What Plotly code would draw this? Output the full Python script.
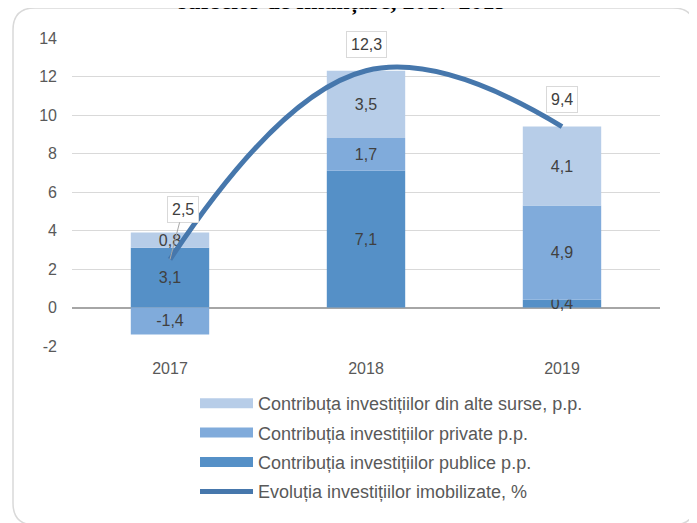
import plotly.graph_objects as go

years = ["2017", "2018", "2019"]
publice = [3.1, 7.1, 0.4]
private = [-1.4, 1.7, 4.9]
alte = [0.8, 3.5, 4.1]
evolutia = [2.5, 12.3, 9.4]
tick_vals = [-2, 0, 2, 4, 6, 8, 10, 12, 14]
tick_text = ["-2", "0", "2", "4", "6", "8", "10", "12", "14"]

names = ["Contribuța investițiilor din alte surse, p.p.",
         "Contribuția investițiilor private p.p.",
         "Contribuția investițiilor publice p.p.",
         "Evoluția investițiilor imobilizate, %"]
c_alte = "#B7CDE8"
c_priv = "#80ABDB"
c_pub = "#5590C7"
c_line = "#4677AC"

OFF = 8  # page body margin
W, H = 697, 523
# plot area in page pixels: x 72..660, y 38..346
ML, MT = 72 - OFF, 38 - OFF
MR, MB = W - (660 - OFF), H - (346 - OFF)
PW, PH = W - ML - MR, H - MT - MB


def fmt(v):
    return f"{v:.1f}".replace(".", ",")


def px(x):
    return (x - OFF - ML) / PW


def py(y):
    return (H - MB - (y - OFF)) / PH


fig = go.Figure()
txtfont = dict(family="Liberation Sans", size=16, color="#404040")
for vals, col in [(publice, c_pub), (private, c_priv), (alte, c_alte)]:
    fig.add_trace(go.Bar(
        x=years, y=vals, marker=dict(color=col, line=dict(width=0)),
        text=[fmt(v) for v in vals], textposition="inside",
        insidetextanchor="middle", constraintext="none",
        textfont=txtfont, showlegend=False, hoverinfo="skip"))

fig.add_trace(go.Scatter(
    x=years, y=evolutia, mode="lines",
    line=dict(color=c_line, width=5, shape="spline", smoothing=1.2),
    showlegend=False))

# legend entries
for i, (nm, col, w) in enumerate([(names[0], c_alte, 10), (names[1], c_priv, 10),
                                  (names[2], c_pub, 10), (names[3], c_line, 5)]):
    fig.add_trace(go.Scatter(
        x=[years[0]], y=[None], mode="lines", name=nm,
        line=dict(color=col, width=w), legendgroup=f"g{i}", legendrank=i + 1))

annots = []
offsets = [(13, -50, True), (0, -26, False), (0, -27, False)]
for idx, (v, (ax, ay, arrow)) in enumerate(zip(evolutia, offsets)):
    a = dict(x=idx, y=v, xref="x", yref="y", text=fmt(v),
             font=dict(family="Liberation Sans", size=16, color="#404040"),
             bgcolor="white", bordercolor="#D9D9D9", borderwidth=1, borderpad=4)
    if arrow:
        a.update(showarrow=True, ax=ax, ay=ay, arrowhead=0, arrowwidth=1,
                 arrowcolor="#A6A6A6", standoff=0)
    else:
        a.update(showarrow=False, yshift=-ay)
    annots.append(a)

annots.append(dict(x=px(342), y=py(17), xref="paper", yref="paper",
                   xanchor="center", yanchor="bottom", showarrow=False,
                   text="<b>surselor de finanțare, 2017-2019</b>",
                   font=dict(family="Liberation Serif", size=24, color="#000000")))

r = 22
x0, x1, y0, y1 = 13, 695, 8, 525
path = (f"M{px(x0 + r)},{py(y0)} L{px(x1 - r)},{py(y0)} "
        f"Q{px(x1)},{py(y0)} {px(x1)},{py(y0 + r)} "
        f"L{px(x1)},{py(y1 - r)} Q{px(x1)},{py(y1)} {px(x1 - r)},{py(y1)} "
        f"L{px(x0 + r)},{py(y1)} Q{px(x0)},{py(y1)} {px(x0)},{py(y1 - r)} "
        f"L{px(x0)},{py(y0 + r)} Q{px(x0)},{py(y0)} {px(x0 + r)},{py(y0)} Z")

fig.update_layout(
    width=W, height=H, barmode="relative", bargap=0.6,
    margin=dict(l=ML, r=MR, t=MT, b=MB, autoexpand=False),
    paper_bgcolor="white", plot_bgcolor="white",
    font=dict(family="Liberation Sans", size=16, color="#595959"),
    xaxis=dict(type="category", categoryorder="array", categoryarray=years,
               range=[-0.5, 2.5], showgrid=False, automargin=False,
               showline=False, ticks="", ticklabelstandoff=11,
               tickfont=dict(size=16, color="#595959")),
    yaxis=dict(range=[-2, 14], tickvals=tick_vals, ticktext=tick_text,
               showgrid=True, gridcolor="#D9D9D9", gridwidth=1, automargin=False,
               zeroline=True, zerolinecolor="#A6A6A6", zerolinewidth=2,
               showline=False, ticks="", ticklabelstandoff=14,
               tickfont=dict(size=16, color="#595959")),
    legend=dict(x=px(195), y=py(385), xanchor="left", yanchor="top",
                orientation="v", traceorder="grouped", tracegroupgap=3,
                itemwidth=53, font=dict(size=18, color="#595959"),
                bgcolor="rgba(0,0,0,0)"),
    annotations=annots,
    shapes=[dict(type="path", path=path, xref="paper", yref="paper",
                 line=dict(color="#D9D9D9", width=1.5), layer="below")],
    showlegend=True,
)

fig.write_html("out.html")
